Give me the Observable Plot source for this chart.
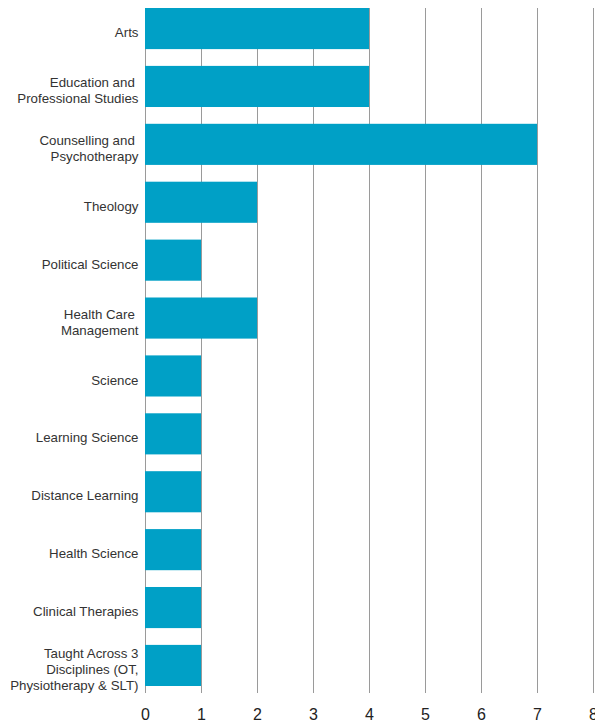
<!DOCTYPE html>
<html>
<head>
<meta charset="utf-8">
<script src="https://cdn.jsdelivr.net/npm/d3@7"></script>
<script src="https://cdn.jsdelivr.net/npm/@observablehq/plot@0.6"></script>
<style>
  html, body { margin: 0; padding: 0; background: #fff; overflow: hidden; }
  #chart svg { display: block; }
</style>
</head>
<body>
<div id="chart"></div>
<script>
const categories = [
  "Arts",
  "Education and\u00a0\nProfessional Studies",
  "Counselling and\u00a0\nPsychotherapy",
  "Theology",
  "Political Science",
  "Health Care\u00a0\nManagement",
  "Science",
  "Learning Science",
  "Distance Learning",
  "Health Science",
  "Clinical Therapies",
  "Taught Across 3\nDisciplines (OT,\nPhysiotherapy & SLT)"
];
const values = [4, 4, 7, 2, 1, 2, 1, 1, 1, 1, 1, 1];
const xTicks = [0, 1, 2, 3, 4, 5, 6, 7, 8];

const data = categories.map((c, i) => ({category: c, value: values[i]}));

const chart = Plot.plot({
  width: 595,
  height: 724,
  marginLeft: 145,
  marginRight: 2,
  marginTop: 8,
  marginBottom: 31,
  style: {fontFamily: "'Liberation Sans', Arial, Helvetica, sans-serif", background: "#fff"},
  x: {domain: [0, 8], ticks: xTicks, label: null},
  y: {domain: categories, range: [8, 686], paddingInner: 0.29, paddingOuter: 0, round: false, label: null, axis: null},
  marks: [
    Plot.ruleX(xTicks, {stroke: "#9a9a9a", strokeWidth: 1}),
    Plot.barX(data, {y: "category", x: "value", fill: "#00a0c6"}),
    Plot.text(data, {
      y: "category",
      text: "category",
      frameAnchor: "left",
      dx: -7,
      dy: 3,
      textAnchor: "end",
      lineHeight: 1.2,
      fontSize: 13.3,
      fill: "#333"
    }),
    Plot.axisX({ticks: xTicks, tickSize: 0, tickPadding: 15, fontSize: 16, color: "#222", label: null})
  ]
});
document.getElementById("chart").appendChild(chart);
</script>
</body>
</html>
